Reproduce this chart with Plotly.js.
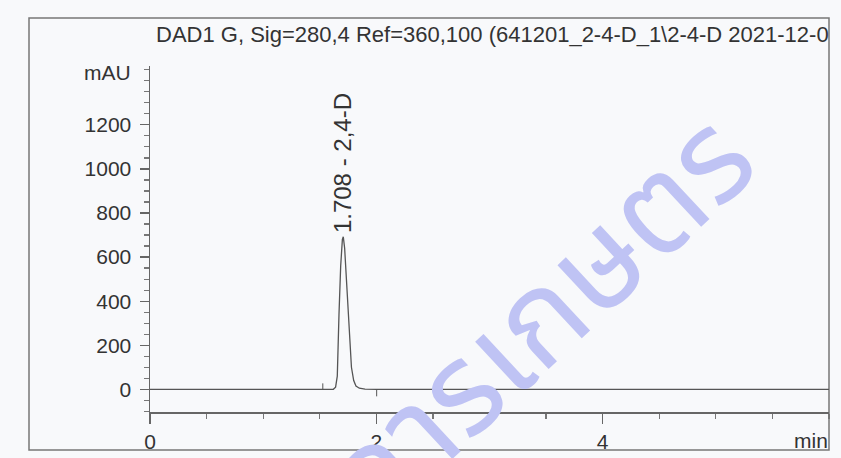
<!DOCTYPE html>
<html>
<head>
<meta charset="utf-8">
<script src="https://cdn.plot.ly/plotly-3.0.1.min.js"></script>
<style>html,body{margin:0;padding:0;background:#f8f9fb;}#chart{width:841px;height:458px;}</style>
</head>
<body>
<div id="chart"></div>
<script>
// Chromatogram signal (time in min, absorbance in mAU)
const timeMin = [0, 0.5, 1.0, 1.5, 1.60, 1.62, 1.64, 1.655, 1.67, 1.685, 1.70, 1.708, 1.72, 1.735, 1.75, 1.765, 1.78, 1.80, 1.82, 1.85, 1.90, 2.0, 2.5, 3.0, 4.0, 5.0, 6.0];
const signalMAU = [0, 0, 0, 0, 0, 0, 10, 60, 340, 560, 680, 692, 640, 500, 340, 200, 100, 40, 15, 5, 1, 0, 0, 0, 0, 0, 0];

// Integration event markers
const startMarkX = [1.527, 1.527];
const startMarkY = [0, 27];
const endMarkX = [2.003, 2.003];
const endMarkY = [0, -32];

// Peak label
const peakTime = [1.708];
const peakHeight = [692];
const peakLabel = ["1.708 - 2,4-D"];

const titleText = "DAD1 G, Sig=280,4 Ref=360,100 (641201_2-4-D_1\\2-4-D 2021-12-0";
const watermarkText = "การเกษตร";

const xTicks = [0, 2, 4];
const yTicks = [0, 200, 400, 600, 800, 1000, 1200];

const lineColor = '#555';
const traces = [
  {x: timeMin, y: signalMAU, type: 'scatter', mode: 'lines', line: {color: lineColor, width: 1.3}, hoverinfo: 'skip'},
  {x: startMarkX, y: startMarkY, type: 'scatter', mode: 'lines', line: {color: lineColor, width: 1}, hoverinfo: 'skip'},
  {x: endMarkX, y: endMarkY, type: 'scatter', mode: 'lines', line: {color: lineColor, width: 1}, hoverinfo: 'skip'}
];

const fam = 'Liberation Sans, Arial, sans-serif';
const axisFont = {family: fam, size: 21, color: '#333'};

const layout = {
  width: 841, height: 458,
  margin: {l: 150, r: 12, t: 66, b: 46},
  paper_bgcolor: '#f8f9fb', plot_bgcolor: '#f8f9fb',
  showlegend: false,
  title: {text: titleText, font: {family: fam, size: 22, color: '#333'},
          xref: 'container', yref: 'container', x: 156/841, xanchor: 'left', y: 1 - 34/458, yanchor: 'middle'},
  xaxis: {range: [0, 6], tickvals: xTicks, ticktext: xTicks.map(String), ticks: 'outside', ticklen: 10, tickcolor: '#666', tickwidth: 1.2,
          minor: {dtick: 0.5, ticks: 'outside', ticklen: 5, tickcolor: '#777', showgrid: false},
          showline: true, linecolor: '#666', linewidth: 1.5, showgrid: false, zeroline: false, tickfont: axisFont, ticklabelstandoff: 0, fixedrange: true},
  yaxis: {range: [-103, 1467], tickvals: yTicks, ticktext: yTicks.map(String), ticks: 'outside', ticklen: 9, tickcolor: '#666', tickwidth: 1.2,
          minor: {dtick: 50, ticks: 'outside', ticklen: 5, tickcolor: '#777', showgrid: false},
          showline: true, linecolor: '#666', linewidth: 1.5, showgrid: false, zeroline: false, tickfont: axisFont, ticklabelstandoff: 4, fixedrange: true},
  shapes: [
    {type: 'rect', xref: 'paper', yref: 'paper', x0: (29-150)/679, x1: (829-150)/679, y0: (412-450)/346, y1: (412-18)/346,
     line: {color: '#777', width: 1.5}, fillcolor: 'rgba(0,0,0,0)', layer: 'below'}
  ],
  annotations: [
    {x: peakTime[0], y: peakHeight[0], text: peakLabel[0], textangle: -90, showarrow: false, xanchor: 'center', yanchor: 'bottom', yshift: 2,
     font: {family: fam, size: 24, color: '#333'}},
    {xref: 'paper', yref: 'paper', x: (133-150)/679, y: (412-72)/346, text: 'mAU', showarrow: false, xanchor: 'right', yanchor: 'middle', font: axisFont},
    {xref: 'paper', yref: 'paper', x: (830-150)/679, y: (412-440)/346, text: 'min', showarrow: false, xanchor: 'right', yanchor: 'middle', font: axisFont},
    {xref: 'paper', yref: 'paper', x: (542-150)/679, y: (412-322)/346, text: watermarkText, textangle: -43, showarrow: false, xanchor: 'center', yanchor: 'middle',
     font: {family: 'Noto Sans Thai, Noto Sans Thai Looped, Loma, Garuda, DejaVu Sans, sans-serif', size: 128, color: '#bfc3f4'}}
  ]
};

Plotly.newPlot('chart', traces, layout, {displayModeBar: false, staticPlot: true});
</script>
</body>
</html>
